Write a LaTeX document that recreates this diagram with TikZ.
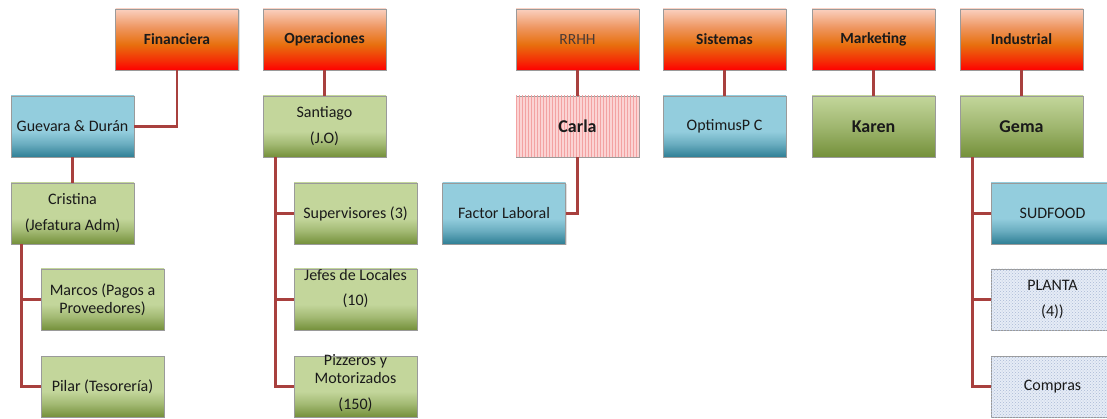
\documentclass[tikz,border=0pt]{standalone}
\usepackage{fontspec}
\setmainfont{Carlito}
\usetikzlibrary{patterns,shadows}
\definecolor{lnk}{HTML}{A8403E}
\definecolor{txt}{HTML}{1A1A1A}
\definecolor{rrhhtxt}{HTML}{4A3A34}
\definecolor{bdr}{HTML}{9A9A9A}
\definecolor{pinkbg}{HTML}{FBD3D3}
\definecolor{pinkln}{HTML}{F3A2A2}
\definecolor{dotbg}{HTML}{E6ECF6}
\definecolor{dotfg}{HTML}{A9B9D6}
\definecolor{rA}{HTML}{FF0000}
\definecolor{rB}{HTML}{F52A05}
\definecolor{rC}{HTML}{E8700E}
\definecolor{rD}{HTML}{EE9660}
\definecolor{rE}{HTML}{FAD0C0}
\pgfdeclareverticalshading{topsh}{100bp}{color(0bp)=(rA); color(25bp)=(rA); color(32bp)=(rB); color(46bp)=(rC); color(60bp)=(rD); color(75bp)=(rE); color(100bp)=(rE)}
\definecolor{blueA}{HTML}{93CDDD}
\definecolor{blueB}{HTML}{2F7F95}
\definecolor{greenA}{HTML}{C3D69B}
\definecolor{greenB}{HTML}{74903A}
\pgfdeclareverticalshading{bluesh}{100bp}{color(0bp)=(blueB); color(25bp)=(blueB); color(36bp)=(blueA!60!blueB); color(46bp)=(blueA); color(75bp)=(blueA); color(100bp)=(blueA)}
\pgfdeclareverticalshading{greensh}{100bp}{color(0bp)=(greenB); color(25bp)=(greenB); color(36bp)=(greenA!60!greenB); color(46bp)=(greenA); color(75bp)=(greenA); color(100bp)=(greenA)}
\pgfdeclareverticalshading{greensh2}{100bp}{color(0bp)=(greenB); color(25bp)=(greenB); color(50bp)=(greenA!55!greenB); color(75bp)=(greenA); color(100bp)=(greenA)}
\tikzset{
  bx/.style={draw=bdr, line width=0.6pt, minimum width=123pt, minimum height=61pt, inner sep=0pt, align=center, text=txt, font=\fontsize{16}{26}\selectfont,
    drop shadow={opacity=0.25, shadow xshift=1.2pt, shadow yshift=-1.2pt}},
  topbox/.style={bx, shading=topsh, font=\fontsize{15.5}{18}\selectfont\bfseries},
  bluebox/.style={bx, shading=bluesh},
  greenbox/.style={bx, shading=greensh},
  greenbig/.style={bx, shading=greensh2, font=\fontsize{18}{20}\selectfont\bfseries},
  pinkbox/.style={bx, fill=pinkbg, postaction={pattern=vertical lines, pattern color=pinkln}, font=\fontsize{18}{20}\selectfont\bfseries},
  dotbox/.style={bx, fill=dotbg, postaction={pattern=crosshatch dots, pattern color=dotfg}},
  lk/.style={draw=lnk, line width=2.6pt}
}
\begin{document}
\begin{tikzpicture}[x=1pt,y=-1pt]
\clip (0,0) rectangle (1107,419);
\fill[white] (0,0) rectangle (1107,419);
% top row
\node[topbox] (fin) at (177,39.5) {Financiera};
\node[topbox] (ope) at (324.5,39.5) {Operaciones};
\node[topbox, font=\fontsize{15.5}{18}\selectfont, text=rrhhtxt] (rrhh) at (577.5,39.5) {RRHH};
\node[topbox] (sis) at (724.5,39.5) {Sistemas};
\node[topbox] (mkt) at (873.5,39.5) {Marketing};
\node[topbox] (ind) at (1021.5,39.5) {Industrial};
% second row
\node[bluebox] (gue) at (72.5,126.5) {Guevara \& Durán};
\node[greenbox] (san) at (324.5,126.5) {Santiago\\(J.O)};
\node[pinkbox] (car) at (577.5,126.5) {Carla};
\node[bluebox] (opt) at (724.5,126.5) {OptimusP C};
\node[greenbig] (kar) at (873.5,126.5) {Karen};
\node[greenbig] (gem) at (1021.5,126.5) {Gema};
% third row
\node[greenbox] (cri) at (72.5,213.5) {Cristina\\(Jefatura Adm)};
\node[greenbox] (sup) at (355.5,213.5) {Supervisores (3)};
\node[bluebox] (fac) at (504,213.5) {Factor Laboral};
\node[bluebox] (sud) at (1052.5,213.5) {SUDFOOD};
% fourth row
\node[greenbox, font=\fontsize{16}{18}\selectfont] (mar) at (102.5,299.5) {Marcos (Pagos a\\Proveedores)};
\node[greenbox, font=\fontsize{16}{25}\selectfont] (jef) at (355.5,299.5) {Jefes de Locales\\(10)\\\mbox{}};
\node[dotbox] (pla) at (1052.5,299.5) {PLANTA\\(4))};
% fifth row
\node[greenbox] (pil) at (102.5,386.5) {Pilar (Tesorería)};
\node[greenbox, font=\fontsize{16}{17.5}\selectfont] (piz) at (355.5,386.5) {\\[-13pt]Pizzeros y\\Motorizados\\[9pt](150)};
\node[dotbox] (com) at (1052.5,386.5) {Compras};
% connectors
\draw[lk] (fin.south) |- (gue.east);
\draw[lk] (ope.south) -- (san.north);
\draw[lk] (rrhh.south) -- (car.north);
\draw[lk] (sis.south) -- (opt.north);
\draw[lk] (mkt.south) -- (kar.north);
\draw[lk] (ind.south) -- (gem.north);
\draw[lk] (gue.south) -- (cri.north);
\draw[lk] (car.south) |- (fac.east);
\draw[lk] ([xshift=11pt]cri.south west) |- (mar.west);
\draw[lk] ([xshift=11pt]cri.south west) |- (pil.west);
\draw[lk] ([xshift=13pt]san.south west) |- (sup.west);
\draw[lk] ([xshift=13pt]san.south west) |- (jef.west);
\draw[lk] ([xshift=13pt]san.south west) |- (piz.west);
\draw[lk] ([xshift=13pt]gem.south west) |- (sud.west);
\draw[lk] ([xshift=13pt]gem.south west) |- (pla.west);
\draw[lk] ([xshift=13pt]gem.south west) |- (com.west);
\end{tikzpicture}
\end{document}
